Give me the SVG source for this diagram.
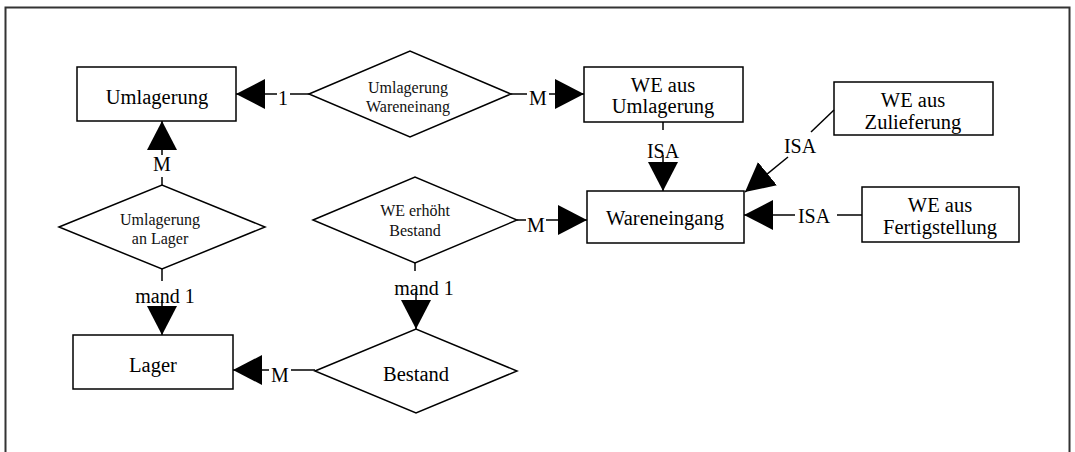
<svg xmlns="http://www.w3.org/2000/svg" width="1075" height="452" viewBox="0 0 1075 452">
  <defs>
    <marker id="arrow" markerUnits="userSpaceOnUse" markerWidth="30" markerHeight="30" viewBox="0 0 30 30" refX="29" refY="15" orient="auto">
      <path d="M0,0 L29,15 L0,30 z" fill="#000"/>
    </marker>
    <style>
      .box { fill: #fff; stroke: #000; stroke-width: 1.5; }
      .rel { fill: #fff; stroke: #000; stroke-width: 1.5; }
      .lbl { font-family: "Liberation Serif", "Times New Roman", serif; font-size: 20.5px; fill: #000; text-anchor: middle; }
      .small { font-family: "Liberation Serif", "Times New Roman", serif; font-size: 16px; fill: #111; text-anchor: middle; }
      .card { font-family: "Liberation Serif", "Times New Roman", serif; font-size: 20px; fill: #000; text-anchor: middle; }
      .edge { fill: none; stroke: #000; stroke-width: 1.5; }
      .head { marker-end: url(#arrow); }
    </style>
  </defs>

  <rect width="1075" height="452" fill="#fff"/>
  <!-- frame (open at the bottom) -->
  <rect x="5.5" y="7.5" width="1064" height="470" fill="none" stroke="#333" stroke-width="2"/>

  <!-- entities -->
  <g id="umlagerung">
    <rect class="box" x="77" y="67" width="159" height="54"/>
    <text class="lbl" x="157" y="104">Umlagerung</text>
  </g>
  <g id="we-aus-umlagerung">
    <rect class="box" x="584" y="67" width="159" height="55"/>
    <text class="lbl" x="663" y="92">WE aus</text>
    <text class="lbl" x="663" y="113">Umlagerung</text>
  </g>
  <g id="we-aus-zulieferung">
    <rect class="box" x="834" y="82" width="159" height="53"/>
    <text class="lbl" x="913" y="107">WE aus</text>
    <text class="lbl" x="913" y="129">Zulieferung</text>
  </g>
  <g id="wareneingang">
    <rect class="box" x="587" y="191" width="157" height="52"/>
    <text class="lbl" x="665" y="225">Wareneingang</text>
  </g>
  <g id="we-aus-fertigstellung">
    <rect class="box" x="862" y="187" width="157" height="55"/>
    <text class="lbl" x="940" y="212">WE aus</text>
    <text class="lbl" x="940" y="234">Fertigstellung</text>
  </g>
  <g id="lager">
    <rect class="box" x="73" y="335" width="160" height="54"/>
    <text class="lbl" x="153" y="372">Lager</text>
  </g>

  <!-- relationships -->
  <g id="umlagerung-wareneinang">
    <polygon class="rel" points="309,94 410,51 511,94 410,137"/>
    <text class="small" x="408" y="93">Umlagerung</text>
    <text class="small" x="408" y="112">Wareneinang</text>
  </g>
  <g id="umlagerung-an-lager">
    <polygon class="rel" points="59,227 162,185 265,227 162,269"/>
    <text class="small" x="160" y="225">Umlagerung</text>
    <text class="small" x="160" y="244">an Lager</text>
  </g>
  <g id="we-erhoeht-bestand">
    <polygon class="rel" points="313,220 415,177 517,220 415,263"/>
    <text class="small" x="415" y="216">WE erhöht</text>
    <text class="small" x="415" y="236">Bestand</text>
  </g>
  <g id="bestand">
    <polygon class="rel" points="315,371 416,329 517,371 416,413"/>
    <text class="lbl" x="416" y="381">Bestand</text>
  </g>

  <!-- connectors with cardinality labels -->
  <g id="connectors">
    <path class="edge" d="M309,94 H290"/>
    <path class="edge head" d="M277,94 H236"/>
    <text class="card" x="283" y="105">1</text>

    <path class="edge" d="M511,94 H527"/>
    <path class="edge head" d="M549,94 H584"/>
    <text class="card" x="538" y="105">M</text>

    <path class="edge" d="M663,122 V130"/>
    <path class="edge head" d="M663,155 V191"/>
    <text class="card" x="663" y="158">ISA</text>

    <path class="edge" d="M834,110 L811,132"/>
    <path class="edge head" d="M788,157 L745,192"/>
    <text class="card" x="800" y="153">ISA</text>

    <path class="edge" d="M862,215 H837"/>
    <path class="edge head" d="M795,215 H744"/>
    <text class="card" x="814" y="223">ISA</text>

    <path class="edge" d="M517,220 H526"/>
    <path class="edge head" d="M546,220 H587"/>
    <text class="card" x="536" y="232">M</text>

    <path class="edge" d="M162,185 V177"/>
    <path class="edge head" d="M162,155 V121"/>
    <text class="card" x="162" y="171">M</text>

    <path class="edge" d="M162,269 V281"/>
    <path class="edge head" d="M162,300 V335"/>
    <text class="card" x="165" y="303">mand 1</text>

    <path class="edge" d="M415,263 V271"/>
    <path class="edge head" d="M416,292 V329"/>
    <text class="card" x="424" y="295">mand 1</text>

    <path class="edge" d="M315,370 H291"/>
    <path class="edge head" d="M269,370 H233"/>
    <text class="card" x="280" y="382">M</text>
  </g>
</svg>
